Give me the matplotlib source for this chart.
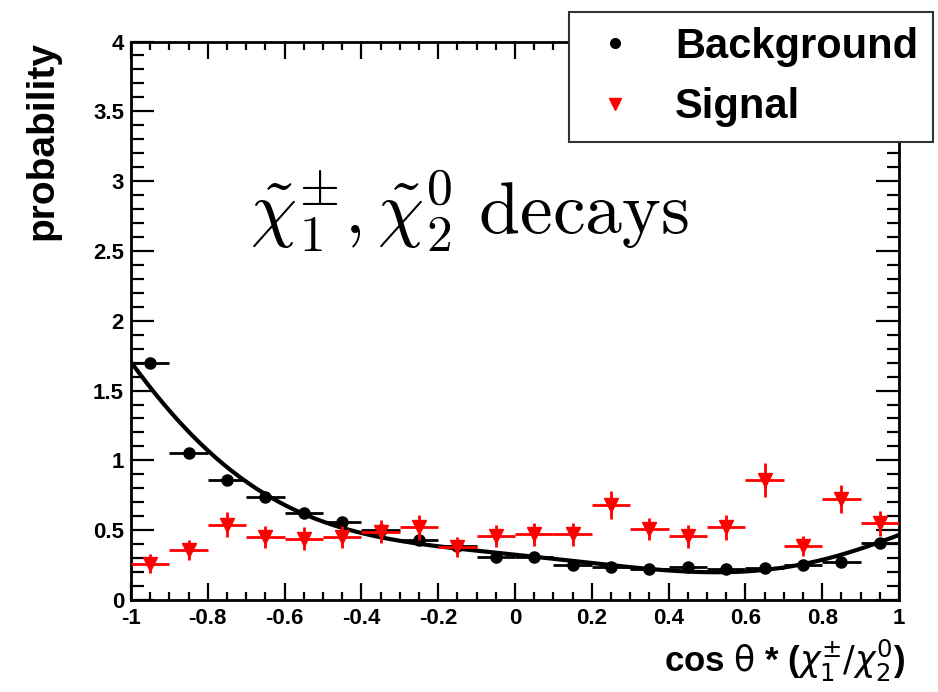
import matplotlib
matplotlib.use("Agg")
import matplotlib.pyplot as plt
import numpy as np
from matplotlib.lines import Line2D
from matplotlib.ticker import MultipleLocator, FuncFormatter

# bin centres of cos(theta*)
bin_centers = [-0.95, -0.85, -0.75, -0.65, -0.55, -0.45, -0.35, -0.25, -0.15, -0.05,
               0.05, 0.15, 0.25, 0.35, 0.45, 0.55, 0.65, 0.75, 0.85, 0.95]
bin_half_width = 0.05

background = [1.70, 1.05, 0.86, 0.74, 0.62, 0.56, 0.50, 0.43, 0.39, 0.31,
              0.31, 0.25, 0.235, 0.22, 0.235, 0.22, 0.23, 0.25, 0.27, 0.41]
background_err = [0.03, 0.025, 0.02, 0.02, 0.02, 0.02, 0.015, 0.015, 0.015, 0.015,
                  0.015, 0.015, 0.015, 0.015, 0.015, 0.015, 0.015, 0.015, 0.015, 0.02]

signal = [0.26, 0.36, 0.54, 0.45, 0.44, 0.45, 0.49, 0.52, 0.38, 0.46,
          0.47, 0.47, 0.68, 0.51, 0.455, 0.52, 0.86, 0.385, 0.725, 0.55]
signal_err = [0.07, 0.07, 0.09, 0.08, 0.08, 0.08, 0.08, 0.09, 0.07, 0.08,
              0.08, 0.08, 0.10, 0.08, 0.08, 0.09, 0.12, 0.07, 0.10, 0.09]

# samples of the background fit curve
fit_x = [-1.0, -0.90, -0.80, -0.74, -0.65, -0.55, -0.45, -0.35, -0.25, -0.15,
         -0.04, 0.0, 0.22, 0.48, 0.57, 0.74, 0.85, 0.985]
fit_y = [1.69, 1.39, 1.07, 0.92, 0.725, 0.62, 0.535, 0.46, 0.40, 0.365,
         0.34, 0.32, 0.247, 0.211, 0.20, 0.26, 0.31, 0.455]

xlabel = r"cos $\mathrm{\theta}$ * ($\chi_{1}^{\pm}/\chi_{2}^{0}$)"
ylabel = "probability"
title = r"$\tilde{\chi}_1^{\pm}, \tilde{\chi}_2^0\ \mathrm{decays}$"
legend_labels = ["Background", "Signal"]

plt.rcParams["font.family"] = ["Liberation Sans", "DejaVu Sans"]

fig = plt.figure(figsize=(9.38, 6.92), dpi=100)
ax = fig.add_axes([131 / 938, 1 - 600 / 692, 768 / 938, 558.5 / 692])

ax.errorbar(bin_centers, background, xerr=bin_half_width, yerr=background_err,
            fmt="o", color="black", ms=8, elinewidth=2, capsize=0, zorder=3)

# smooth polynomial through the fit curve
coef = np.polyfit(fit_x, fit_y, 6)
xf = np.linspace(-1, 1, 300)
ax.plot(xf, np.polyval(coef, xf), color="black", lw=3, zorder=4)

ax.errorbar(bin_centers, signal, xerr=bin_half_width, yerr=signal_err,
            fmt="v", color="red", ms=10, elinewidth=2, capsize=0, zorder=5)


def fmt(v, p):
    if abs(v) < 1e-9:
        v = 0
    return f"{v:g}"


ax.set_xlim(-1, 1)
ax.set_ylim(0, 4)
ax.xaxis.set_major_locator(MultipleLocator(0.2))
ax.xaxis.set_minor_locator(MultipleLocator(0.05))
ax.yaxis.set_major_locator(MultipleLocator(0.5))
ax.yaxis.set_minor_locator(MultipleLocator(0.1))
ax.xaxis.set_major_formatter(FuncFormatter(fmt))
ax.yaxis.set_major_formatter(FuncFormatter(fmt))

ax.tick_params(axis="both", which="both", direction="in", top=True, right=True,
               width=1.6, labelsize=16)
for lab in ax.get_xticklabels() + ax.get_yticklabels():
    lab.set_fontweight("bold")
ax.tick_params(axis="x", which="major", length=12.5, pad=6)
ax.tick_params(axis="x", which="minor", length=6)
ax.tick_params(axis="y", which="major", length=16.5, pad=5)
ax.tick_params(axis="y", which="minor", length=9)
for s in ax.spines.values():
    s.set_linewidth(2)

ax.set_ylabel(ylabel, fontsize=28, fontweight="bold", loc="top")
ax.yaxis.set_label_coords(-0.092, 1.0)
ax.set_xlabel(xlabel, fontsize=25, fontweight="bold", loc="right")
ax.xaxis.set_label_coords(1.008, -0.068)

ax.text(0.155, 2.63, title, transform=ax.get_yaxis_transform(), fontsize=53,
        math_fontfamily="cm", va="baseline", ha="left")

handles = [
    Line2D([], [], marker="o", color="black", ls="none", ms=7),
    Line2D([], [], marker="v", color="red", ls="none", ms=8),
]
leg = ax.legend(handles, legend_labels, loc="upper right",
                bbox_to_anchor=(933 / 938, 1 - 12 / 692), bbox_transform=fig.transFigure,
                prop={"size": 30, "weight": "bold"}, fancybox=False, framealpha=1,
                edgecolor="#333333", borderpad=0.35, labelspacing=0.5,
                handlelength=1.5, handletextpad=0.7, borderaxespad=0)
leg.get_frame().set_linewidth(1.5)

fig.savefig("out.png", dpi=100)
